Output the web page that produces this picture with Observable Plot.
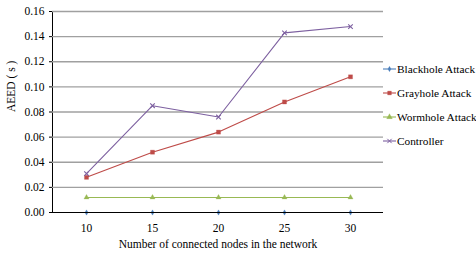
<!DOCTYPE html>
<html>
<head>
<meta charset="utf-8">
<script src="https://cdn.jsdelivr.net/npm/d3@7"></script>
<script src="https://cdn.jsdelivr.net/npm/@observablehq/plot@0.6"></script>
<style>
  html, body { margin: 0; padding: 0; background: #fff; }
  #wrap { position: relative; width: 476px; height: 254px; font-family: "Liberation Serif", Tinos, "Times New Roman", "DejaVu Serif", serif; }
  #wrap svg, #wrap svg text { font-family: "Liberation Serif", Tinos, "Times New Roman", "DejaVu Serif", serif !important; }
  #legend { position: absolute; left: 383px; top: 57px; font-size: 11.3px; color: #000; white-space: nowrap; }
  .row { display: flex; align-items: center; height: 24px; white-space: nowrap; }
  .row svg { margin-right: 1px; flex: none; }
</style>
</head>
<body>
<div id="wrap"><div id="legend"></div></div>
<script>
const nodes = ["10", "15", "20", "25", "30"];
const blackhole = [0, 0, 0, 0, 0];
const grayhole = [0.028, 0.048, 0.064, 0.088, 0.108];
const wormhole = [0.012, 0.012, 0.012, 0.012, 0.012];
const controller = [0.031, 0.085, 0.076, 0.143, 0.148];
const seriesNames = ["Blackhole Attack", "Grayhole Attack", "Wormhole Attack", "Controller"];
const yTicks = [0, 0.02, 0.04, 0.06, 0.08, 0.10, 0.12, 0.14, 0.16];
const yLabel = "AEED ( s )";
const xLabel = "Number of connected nodes in the network";

const colors = ["#4A7EBB", "#BE4B48", "#98B954", "#7D60A0"];
const symbols = ["diamond", "square", "triangle", "times"];
const radii = [1.6, 2.3, 1.9, 2.2];
const allValues = [blackhole, grayhole, wormhole, controller];

const data = [];
seriesNames.forEach((s, i) => nodes.forEach((n, j) => data.push({series: s, x: n, y: allValues[i][j]})));

const marks = [
  Plot.ruleY(yTicks.slice(1), {stroke: "#a0a0a0", strokeWidth: 1.4})
];
seriesNames.forEach((s, i) => {
  const d = data.filter(r => r.series === s);
  marks.push(Plot.line(d, {x: "x", y: "y", stroke: colors[i], strokeWidth: 1.1}));
  marks.push(Plot.dot(d, {x: "x", y: "y", symbol: () => symbols[i], fill: symbols[i] === "times" ? "none" : colors[i], stroke: colors[i], strokeWidth: symbols[i] === "times" ? 1.1 : 0.3, r: radii[i]}));
});
marks.push(Plot.ruleY([0], {stroke: "#000", strokeWidth: 1.2}));
marks.push(Plot.text([yLabel], {frameAnchor: "left", rotate: -90, dx: -41, fontSize: 11.5}));

const chart = Plot.plot({
  width: 476,
  height: 254,
  marginLeft: 52,
  marginRight: 93,
  marginTop: 11,
  marginBottom: 42,
  style: {fontSize: "11.5px", color: "#000", background: "#fff"},
  x: {type: "point", domain: nodes, padding: 0.5, tickSize: 0, tickPadding: 11, label: xLabel, labelAnchor: "center", labelOffset: 35},
  y: {domain: [0, 0.16], ticks: yTicks, tickFormat: d3.format(".2f"), tickSize: 3, tickPadding: 5, line: true, label: null},
  marks
});
document.getElementById("wrap").prepend(chart);

const legend = document.getElementById("legend");
seriesNames.forEach((s, i) => {
  const row = document.createElement("div");
  row.className = "row";
  const sym = d3.symbol(i === 0 ? d3.symbolDiamond : i === 1 ? d3.symbolSquare : i === 2 ? d3.symbolTriangle : d3.symbolTimes, i === 0 ? 8 : 14)();
  row.innerHTML = `<svg width="13" height="8"><line x1="0" x2="13" y1="4" y2="4" stroke="${colors[i]}" stroke-width="1.1"/><path d="${sym}" transform="translate(6.5,4)" fill="${i === 3 ? "none" : colors[i]}" stroke="${colors[i]}" stroke-width="${i === 3 ? 1 : 0.3}"/></svg><span>${s}</span>`;
  legend.appendChild(row);
});
</script>
</body>
</html>
